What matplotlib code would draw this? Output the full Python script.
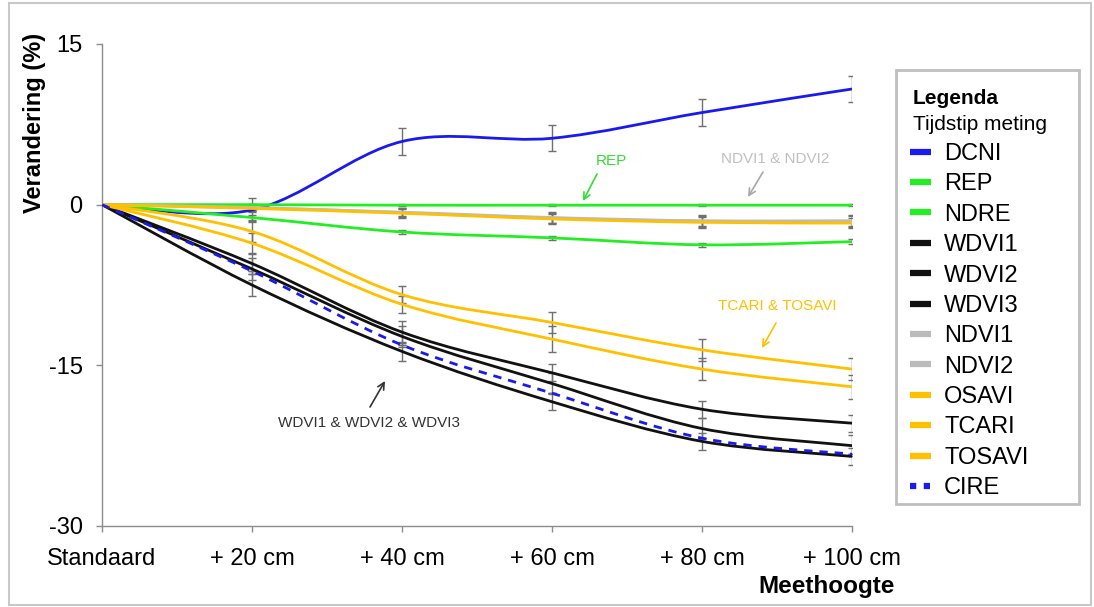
import matplotlib
matplotlib.use("Agg")
import matplotlib.pyplot as plt
from matplotlib.path import Path
from matplotlib.patches import PathPatch, Rectangle
from matplotlib.lines import Line2D

plt.rcParams['font.family'] = ['Liberation Sans', 'DejaVu Sans']

# x categories (measuring height)
categories = ['Standaard', '+ 20 cm', '+ 40 cm', '+ 60 cm', '+ 80 cm', '+ 100 cm']
xpos = [0, 1, 2, 3, 4, 5]

# change (%) per index
dcni = [0, -0.5, 5.9, 6.2, 8.6, 10.8]
rep = [0, 0.0, -0.05, -0.05, -0.05, -0.05]
ndre = [0, -1.2, -2.55, -3.1, -3.75, -3.45]
wdvi1 = [0, -5.5, -11.9, -15.7, -19.1, -20.4]
wdvi2 = [0, -6.0, -12.3, -16.7, -20.9, -22.5]
wdvi3 = [0, -7.5, -13.7, -18.4, -22.1, -23.5]
ndvi1 = [0, -0.3, -0.7, -1.2, -1.5, -1.5]
ndvi2 = [0, -0.25, -0.75, -1.25, -1.55, -1.55]
osavi = [0, -0.35, -0.8, -1.33, -1.65, -1.72]
tcari = [0, -2.5, -8.4, -11.0, -13.55, -15.35]
tosavi = [0, -3.6, -9.3, -12.55, -15.35, -17.0]
cire = [0, -6.2, -13.1, -17.6, -21.8, -23.3]

# error bar half-widths
dcni_err = [0, 1.1, 1.25, 1.2, 1.25, 1.25]
rep_err = [0, 0.1, 0.1, 0.1, 0.1, 0.1]
ndre_err = [0, 0.2, 0.2, 0.2, 0.2, 0.2]
wdvi1_err = [0, 1.0, 1.0, 0.8, 0.8, 0.8]
wdvi2_err = [0, 1.0, 1.0, 1.0, 1.0, 1.0]
wdvi3_err = [0, 1.0, 0.9, 0.8, 0.8, 0.8]
ndvi1_err = [0, 0.3, 0.4, 0.5, 0.5, 0.5]
ndvi2_err = [0, 0.3, 0.4, 0.5, 0.5, 0.5]
osavi_err = [0, 0.3, 0.4, 0.5, 0.5, 0.5]
tcari_err = [0, 1.0, 0.8, 1.0, 1.0, 1.0]
tosavi_err = [0, 1.0, 0.8, 1.2, 1.0, 1.1]
cire_err = [0, 0, 0, 0, 0, 0]

BLUE = '#1a1aee'
GREEN = '#22ee22'
BLACK = '#111111'
GREY = '#bbbbbb'
ORANGE = '#ffc000'

series = [
    ('DCNI', dcni, dcni_err, BLUE, '-'),
    ('REP', rep, rep_err, GREEN, '-'),
    ('NDRE', ndre, ndre_err, GREEN, '-'),
    ('WDVI1', wdvi1, wdvi1_err, BLACK, '-'),
    ('WDVI2', wdvi2, wdvi2_err, BLACK, '-'),
    ('WDVI3', wdvi3, wdvi3_err, BLACK, '-'),
    ('NDVI1', ndvi1, ndvi1_err, GREY, '-'),
    ('NDVI2', ndvi2, ndvi2_err, GREY, '-'),
    ('OSAVI', osavi, osavi_err, ORANGE, '-'),
    ('TCARI', tcari, tcari_err, ORANGE, '-'),
    ('TOSAVI', tosavi, tosavi_err, ORANGE, '-'),
    ('CIRE', cire, cire_err, BLUE, (0, (3, 2.5))),
]


def smooth_path(xs, ys):
    # Excel-style smoothed line: Bezier segments with Catmull-Rom control points
    n = len(xs)
    verts = [(xs[0], ys[0])]
    codes = [Path.MOVETO]
    for i in range(n - 1):
        a = i - 1 if i > 0 else i
        d = i + 2 if i + 2 < n else i + 1
        c1 = (xs[i] + (xs[i + 1] - xs[a]) / 6, ys[i] + (ys[i + 1] - ys[a]) / 6)
        c2 = (xs[i + 1] - (xs[d] - xs[i]) / 6, ys[i + 1] - (ys[d] - ys[i]) / 6)
        verts += [c1, c2, (xs[i + 1], ys[i + 1])]
        codes += [Path.CURVE4] * 3
    return Path(verts, codes)


fig = plt.figure(figsize=(10.94, 6.07), dpi=100)
ax = fig.add_axes([102 / 1094, 81 / 607, 750 / 1094, 482 / 607])

for name, vals, err, col, ls in series:
    ax.errorbar(xpos[1:], vals[1:], yerr=err[1:], fmt='none', ecolor='#707070',
                elinewidth=1, capsize=3, capthick=1, zorder=2)
for name, vals, err, col, ls in series:
    patch = PathPatch(smooth_path(xpos, vals), fill=False, edgecolor=col,
                      lw=2.0, linestyle=ls, zorder=3)
    ax.add_patch(patch)

ax.set_xlim(0, 5)
ax.set_ylim(-30, 15)
ax.set_yticks([15, 0, -15, -30])
ax.set_yticklabels(['15', '0', '-15', '-30'])
ax.set_xticks(xpos)
ax.set_xticklabels(categories)
for s in ['top', 'right']:
    ax.spines[s].set_visible(False)
for s in ['left', 'bottom']:
    ax.spines[s].set_color('#8c8c8c')
    ax.spines[s].set_linewidth(1)
ax.tick_params(axis='both', direction='out', length=4, width=1, color='#8c8c8c',
               labelsize=17, labelcolor='black')
ax.tick_params(axis='x', pad=12)
ax.tick_params(axis='y', pad=10)

fig.text(35 / 1094, 1 - 123 / 607, 'Verandering (%)', rotation=90, ha='center',
         va='center', fontsize=17, fontweight='bold')
fig.text(827 / 1094, 1 - 587 / 607, 'Meethoogte', ha='center', va='center',
         fontsize=17.5, fontweight='bold')

# annotations: label text, then a separate arrow (start, end in figure pixels)
notes = [
    ('REP', (611, 161), (597, 174), (583, 201), '#33dd33', '#33dd33'),
    ('NDVI1 & NDVI2', (775, 159), (763, 172), (748, 197), '#c0c0c0', '#a8a8a8'),
    ('TCARI & TOSAVI', (777, 306), (776, 323), (762, 348), ORANGE, ORANGE),
    ('WDVI1 & WDVI2 & WDVI3', (369, 423), (370, 407), (385, 381), '#333333', '#333333'),
]
for txt, tpos, a0, a1, tcol, acol in notes:
    fig.text(tpos[0] / 1094, 1 - tpos[1] / 607, txt, color=tcol, fontsize=11,
             ha='center', va='center')
    ax.annotate('', xy=(a1[0], 607 - a1[1]), xycoords='figure pixels',
                xytext=(a0[0], 607 - a0[1]), textcoords='figure pixels',
                arrowprops=dict(arrowstyle='->', color=acol, lw=1.2,
                                shrinkA=0, shrinkB=0, mutation_scale=12))

# legend box and headers
fig.patches.append(Rectangle((896 / 1094, 1 - 504 / 607), 183 / 1094, 434 / 607,
                             transform=fig.transFigure, fill=False,
                             edgecolor='#bfbfbf', lw=2))
fig.text(913 / 1094, 1 - 98 / 607, 'Legenda', ha='left', va='center',
         fontsize=15, fontweight='bold')
fig.text(913 / 1094, 1 - 125 / 607, 'Tijdstip meting', ha='left', va='center',
         fontsize=15)

handles = []
for name, vals, err, col, ls in series:
    if name == 'CIRE':
        h = Line2D([], [], color=col, lw=4.5, linestyle=(0, (1, 1.2)))
    else:
        h = Line2D([], [], color=col, lw=4.5, solid_capstyle='butt')
    handles.append(h)
fig.legend(handles, [s[0] for s in series], loc='upper left',
           bbox_to_anchor=(910 / 1094, 1 - 143 / 607), frameon=False,
           fontsize=17, handlelength=0.9, handletextpad=0.55,
           labelspacing=0.355, borderpad=0, borderaxespad=0)

# outer chart border
fig.patches.append(Rectangle((9 / 1094, 2 / 607), 1082 / 1094, 602 / 607,
                             transform=fig.transFigure, fill=False,
                             edgecolor='#c8c8c8', lw=1.5))

fig.savefig('out.png', dpi=100)
